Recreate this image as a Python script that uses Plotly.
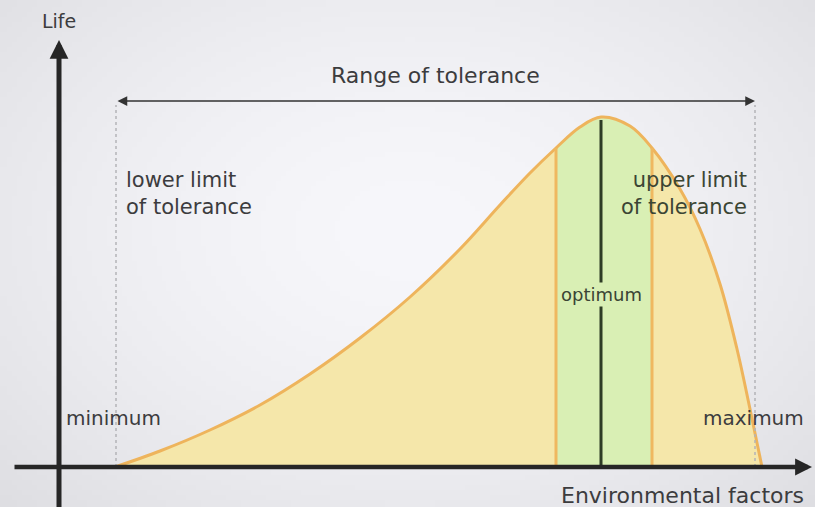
import base64
import struct
import zlib

import numpy as np
import plotly.graph_objects as go

# ---- data ----
factor = [56, 101, 151, 201, 251, 301, 351, 401, 441, 471, 497, 521, 542,
          571, 593, 621, 641, 661, 678, 691, 703]
life = [0, 16, 37, 62, 93, 129, 170, 218, 262, 294, 319, 340, 350,
        341, 319, 278, 238, 183, 118, 58, 0]

minimum_x = 57
maximum_x = 696
opt_low_idx = 10    # index of lower optimum boundary in arrays
opt_high_idx = 14   # index of upper optimum boundary
optimum_idx = 12
optimum_top = 347
range_level = 366

labels_lower = "lower limit<br>of tolerance"
labels_upper = "upper limit<br>of tolerance"

# ---- styles ----
YELLOW = "#f5e7aa"
GREEN = "#d9efb4"
CURVE = "#eeb45c"
ORANGE = "#efb860"
DARK = "#262626"
OPT_DARK = "#2e3c25"
TXT = "#3c3c3e"
FONT = "DejaVu Sans"


def gradient_uri(w=164, h=102):
    yy, xx = np.mgrid[0:h, 0:w]
    d = np.sqrt(((xx / w - 0.5) / 0.5) ** 2 + ((yy / h - 0.45) / 0.55) ** 2)
    t = np.clip(d / 1.414, 0, 1) ** 1.6
    c0 = np.array([247, 247, 251], float)
    c1 = np.array([222, 222, 226], float)
    img = (c0[None, None, :] * (1 - t[..., None]) + c1[None, None, :] * t[..., None])
    img = img.astype(np.uint8)
    raw = b"".join(b"\x00" + img[r].tobytes() for r in range(h))

    def chunk(tag, data):
        return (struct.pack(">I", len(data)) + tag + data
                + struct.pack(">I", zlib.crc32(tag + data) & 0xffffffff))

    png = (b"\x89PNG\r\n\x1a\n"
           + chunk(b"IHDR", struct.pack(">IIBBBBB", w, h, 8, 2, 0, 0, 0))
           + chunk(b"IDAT", zlib.compress(raw, 9))
           + chunk(b"IEND", b""))
    return "data:image/png;base64," + base64.b64encode(png).decode()


fig = go.Figure()

# yellow area
fig.add_trace(go.Scatter(x=factor, y=life, mode="lines", fill="tozeroy",
                         fillcolor=YELLOW, line=dict(width=0, shape="spline"),
                         hoverinfo="skip"))
# green optimum band
fig.add_trace(go.Scatter(x=factor[opt_low_idx:opt_high_idx + 1],
                         y=life[opt_low_idx:opt_high_idx + 1],
                         mode="lines", fill="tozeroy", fillcolor=GREEN,
                         line=dict(width=0, shape="spline"), hoverinfo="skip"))
# curve outline
fig.add_trace(go.Scatter(x=factor, y=life, mode="lines",
                         line=dict(color=CURVE, width=3, shape="spline"),
                         hoverinfo="skip"))
# orange boundary lines
for i in (opt_low_idx, opt_high_idx):
    fig.add_trace(go.Scatter(x=[factor[i], factor[i]], y=[0, life[i]],
                             mode="lines", line=dict(color=ORANGE, width=3),
                             hoverinfo="skip"))
# optimum line
fig.add_trace(go.Scatter(x=[factor[optimum_idx]] * 2, y=[0, optimum_top],
                         mode="lines", line=dict(color=OPT_DARK, width=3),
                         hoverinfo="skip"))
# dotted limit lines
for xv in (minimum_x, maximum_x):
    fig.add_trace(go.Scatter(x=[xv, xv], y=[0, range_level - 4], mode="lines",
                             line=dict(color="#b4b4b8", width=1.5, dash="dot"),
                             hoverinfo="skip"))

ann = []
# axes with arrows
ann.append(dict(x=0, y=427, ax=0, ay=-45, xref="x", yref="y", axref="x", ayref="y",
                text="", showarrow=True, arrowhead=2, arrowsize=0.75,
                arrowwidth=5, arrowcolor=DARK))
ann.append(dict(x=753, y=0, ax=-46, ay=0, xref="x", yref="y", axref="x", ayref="y",
                text="", showarrow=True, arrowhead=2, arrowsize=0.75,
                arrowwidth=4.5, arrowcolor=DARK))
# range of tolerance double arrow
ann.append(dict(x=maximum_x, y=range_level, ax=minimum_x, ay=range_level,
                xref="x", yref="y", axref="x", ayref="y", text="", showarrow=True,
                arrowhead=2, arrowside="end+start", arrowsize=1.3, arrowwidth=1.5,
                arrowcolor="#333333"))


def label(text, x, y, xanchor="center", align="center", size=21, color=TXT, **kw):
    ann.append(dict(x=x, y=y, xref="x", yref="y", text=text, showarrow=False,
                    xanchor=xanchor, yanchor="middle", align=align,
                    font=dict(family=FONT, size=size, color=color), **kw))


label("Life", 0, 446, size=19)
label("Range of tolerance", 376, 392, size=22)
label(labels_lower, 65, 274, xanchor="left", align="left", size=21)
label(labels_upper, 690, 274, xanchor="right", align="right", size=21,
      color="#3b4534")
label("optimum", factor[optimum_idx], 173, size=18, color="#3b4534",
      bgcolor=GREEN, borderpad=1)
label("minimum", 5, 49, xanchor="left", size=20)
label("maximum", 747, 49, xanchor="right", size=20)
label("Environmental factors", 747, -28, xanchor="right", size=22)

fig.update_layout(
    width=815, height=507, margin=dict(l=0, r=0, t=0, b=0),
    paper_bgcolor="#ececf0", plot_bgcolor="rgba(0,0,0,0)", showlegend=False,
    xaxis=dict(range=[-59, 756], visible=False, fixedrange=True),
    yaxis=dict(range=[-40, 467], visible=False, fixedrange=True),
    annotations=ann,
    images=[dict(source=gradient_uri(), xref="paper", yref="paper", x=0, y=1,
                 sizex=1, sizey=1, xanchor="left", yanchor="top",
                 sizing="stretch", layer="below")],
)

fig.write_html("out.html", config={"displayModeBar": False},
               post_script="document.body.style.margin='0';")
